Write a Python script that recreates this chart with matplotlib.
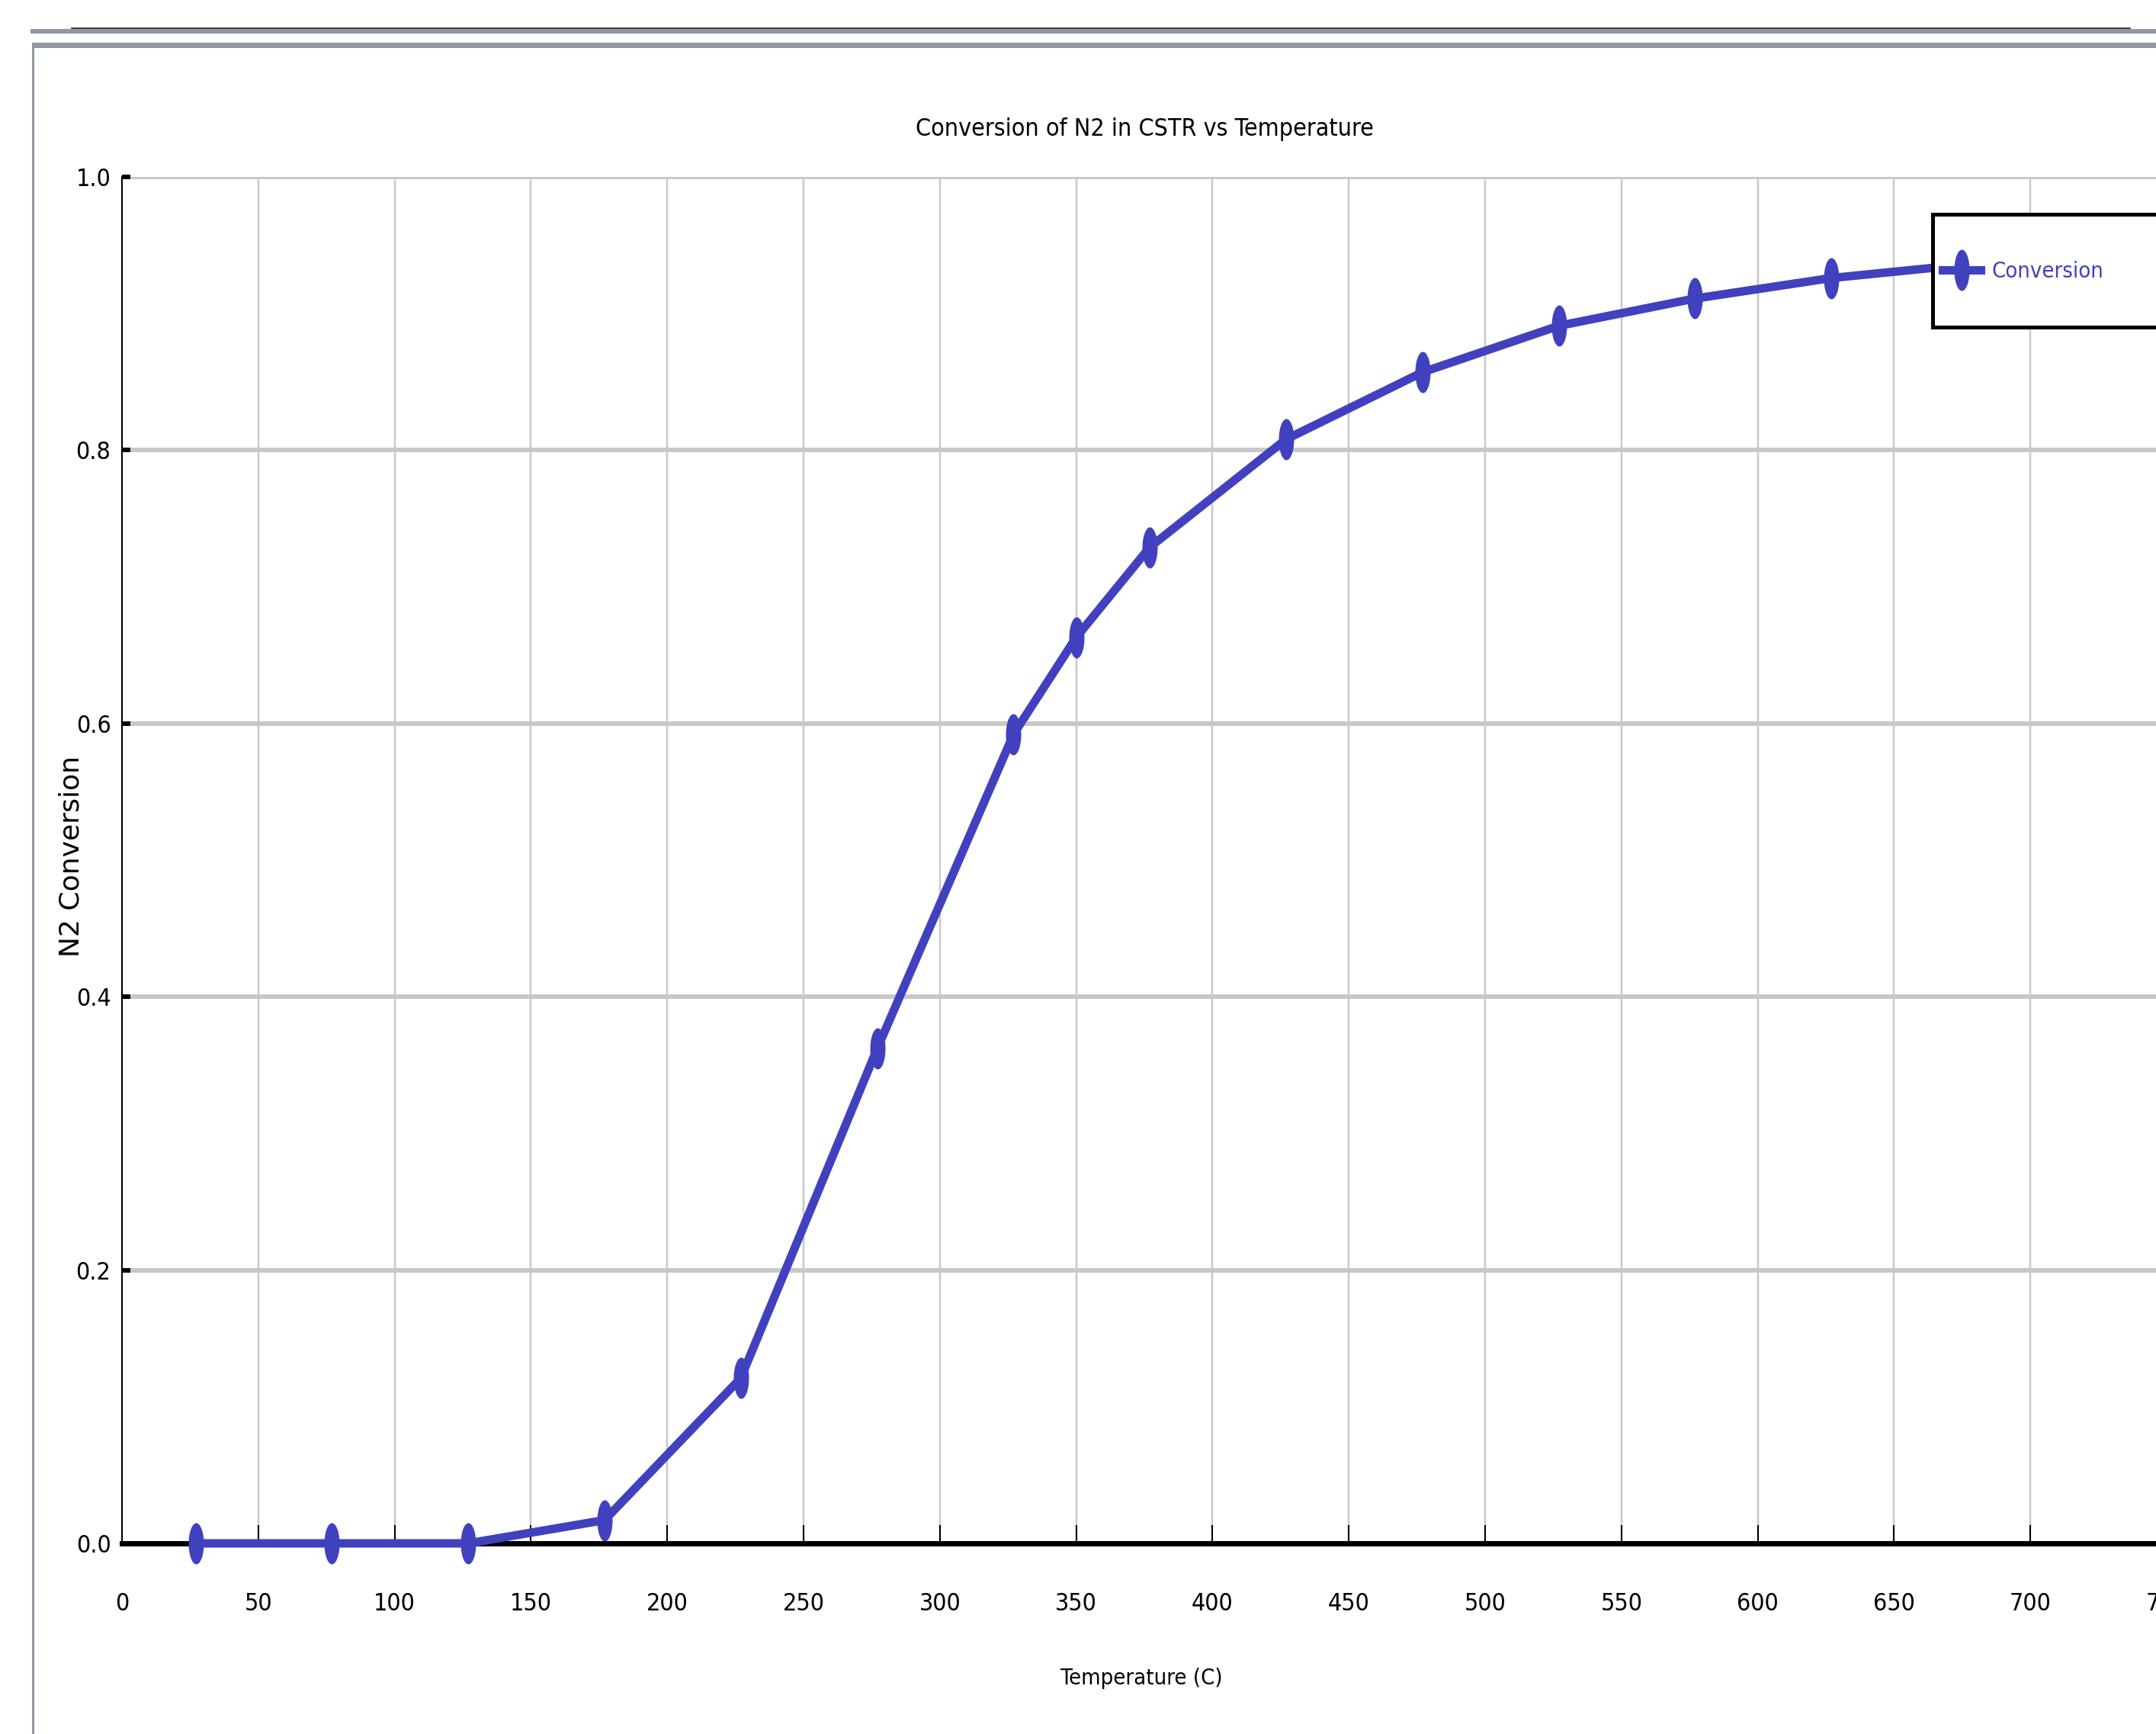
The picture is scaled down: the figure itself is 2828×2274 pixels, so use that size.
import numpy as np
import matplotlib
matplotlib.use("Agg")
import matplotlib.pyplot as plt
from matplotlib.path import Path
from matplotlib.patches import Rectangle
from matplotlib.lines import Line2D

# data (temperature in C, N2 conversion)
temperature = [27, 77, 127, 177, 227, 277, 327, 350, 377, 427, 477, 527, 577, 627, 677, 727]
conversion = [0.0, 0.0, 0.0, 0.017, 0.121, 0.362, 0.592, 0.663, 0.729, 0.808,
              0.857, 0.891, 0.911, 0.926, 0.936, 0.944]
x_ticks = list(range(0, 751, 50))
y_ticks = [0.0, 0.2, 0.4, 0.6, 0.8, 1.0]

W, H, DPI = 2828, 2274, 100
PT = 72 / DPI  # pixels -> points
BLUE = "#4141BF"
GRID = "#C8C8C8"
FRAME = "#8E99A4"

# the screenshot text is squeezed sideways, condensed DejaVu is the closest
plt.rcParams["font.family"] = ["DejaVu Sans"]
plt.rcParams["font.stretch"] = "condensed"

fig = plt.figure(figsize=(W / DPI, H / DPI), dpi=DPI)
fig.patch.set_facecolor("white")


def fig_box(x0, y0, x1, y1):
    # pixel box (top-left origin) -> figure fraction rectangle
    return (x0 / W, 1 - y1 / H), (x1 - x0) / W, (y1 - y0) / H


# window frame around the chart
for x0, y0, x1, y1 in [(40, 38, W, 44), (42, 56, W, 63), (42, 56, 45, H)]:
    xy, w, h = fig_box(x0, y0, x1, y1)
    fig.add_artist(Rectangle(xy, w, h, transform=fig.transFigure, color=FRAME, lw=0))
fig.add_artist(Line2D([94 / W, 2794 / W], [1 - 37 / H, 1 - 37 / H],
                      transform=fig.transFigure, color="black", lw=1.5 * PT))

# axes: x runs past the right edge of the picture
ax = fig.add_axes([160 / W, 1 - 2024 / H, 2682 / W, 1792 / H])
ax.set_xlim(0, 750)
ax.set_ylim(0, 1.0)
ax.set_xticks(x_ticks)
ax.set_yticks(y_ticks)
ax.set_yticklabels([f"{v:.1f}" for v in y_ticks])

ax.set_axisbelow(True)
ax.yaxis.grid(True, color=GRID, lw=6 * PT)
ax.xaxis.grid(True, color=GRID, lw=2.5 * PT)

for side in ["top", "right"]:
    ax.spines[side].set_visible(False)
ax.spines["bottom"].set_linewidth(7 * PT)
ax.spines["left"].set_linewidth(2 * PT)

ax.tick_params(axis="x", direction="in", length=24 * PT, width=2 * PT,
               labelsize=23, pad=46)
ax.tick_params(axis="y", direction="in", length=11 * PT, width=6 * PT,
               labelsize=23, pad=10.5)

# tall lens-shaped marker like the stretched screenshot
t = np.linspace(0, 2 * np.pi, 64)
lens = Path(np.column_stack([0.37 * np.cos(t), np.sin(t)]))

ax.plot(temperature, conversion, color=BLUE, lw=8, marker=lens,
        markersize=54 * PT, markeredgewidth=0, clip_on=False, zorder=3,
        solid_joinstyle="round", label="Conversion")

ax.set_title("Conversion of N2 in CSTR vs Temperature", fontsize=23, pad=39)
ax.set_xlabel("Temperature (C)", fontsize=21)
ax.xaxis.set_label_coords(0.4985, -0.091)
ax.set_ylabel("N2 Conversion", fontsize=26, stretch="normal")
ax.yaxis.set_label_coords(-0.0185, 0.503)

# legend box (cut off by the right edge like in the screenshot)
xy, w, h = fig_box(2535, 281, 2900, 429)
ax.add_patch(Rectangle(xy, w, h, transform=fig.transFigure, facecolor="white",
                       edgecolor="black", lw=5 * PT, clip_on=False, zorder=4))
leg = ax.legend(loc="center left", bbox_to_anchor=(2548 / W, 1 - 356 / H),
                bbox_transform=fig.transFigure, borderaxespad=0, borderpad=0,
                frameon=False, fontsize=21, handlelength=1.71, handletextpad=0.51,
                labelcolor=BLUE)
leg.set_zorder(5)

fig.savefig("out.png", dpi=DPI, facecolor="white")
